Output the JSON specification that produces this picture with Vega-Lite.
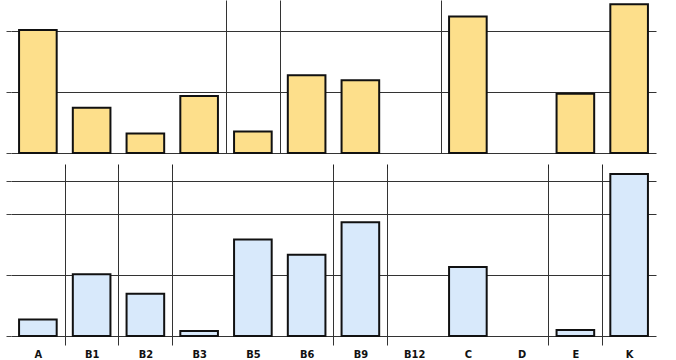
{
  "$schema": "https://vega.github.io/schema/vega-lite/v6.json",
  "padding": {"left": 5, "top": 0, "right": 10, "bottom": 5},
  "spacing": 15,
  "bounds": "flush",
  "background": "white",
  "config": {
    "view": {"stroke": null},
    "axis": {"domain": false, "labelFont": "DejaVu Sans Condensed"}
  },
  "datasets": {
    "top": [
      {"cat": "A", "value": 2.01},
      {"cat": "B1", "value": 0.74},
      {"cat": "B2", "value": 0.32},
      {"cat": "B3", "value": 0.93},
      {"cat": "B5", "value": 0.35},
      {"cat": "B6", "value": 1.27},
      {"cat": "B9", "value": 1.19},
      {"cat": "B12", "value": 0},
      {"cat": "C", "value": 2.23},
      {"cat": "D", "value": 0},
      {"cat": "E", "value": 0.97},
      {"cat": "K", "value": 2.43}
    ],
    "bottom": [
      {"cat": "A", "value": 0.27},
      {"cat": "B1", "value": 1.01},
      {"cat": "B2", "value": 0.69},
      {"cat": "B3", "value": 0.08},
      {"cat": "B5", "value": 1.58},
      {"cat": "B6", "value": 1.33},
      {"cat": "B9", "value": 1.86},
      {"cat": "B12", "value": 0},
      {"cat": "C", "value": 1.13},
      {"cat": "D", "value": 0},
      {"cat": "E", "value": 0.10},
      {"cat": "K", "value": 2.65}
    ]
  },
  "vconcat": [
    {
      "width": 645,
      "height": 153,
      "data": {"name": "top"},
      "mark": {"type": "bar", "fill": "#FDDF8B", "stroke": "#111111", "strokeWidth": 2},
      "encoding": {
        "x": {
          "field": "cat", "type": "nominal", "sort": null,
          "scale": {"paddingInner": 0.3, "paddingOuter": 0.15},
          "axis": {
            "title": null, "labels": false, "bandPosition": 1, "tickOffset": 8,
            "offset": 11, "tickSize": 7, "tickColor": "#222", "tickWidth": 1,
            "tickOpacity": {"condition": {"test": "indexof(['A','B1','B2','B6','B9','D','E'], datum.value) >= 0", "value": 1}, "value": 0},
            "grid": true, "gridColor": "#333", "gridWidth": 1,
            "gridOpacity": {"condition": {"test": "indexof(['B3','B5','B12'], datum.value) >= 0", "value": 1}, "value": 0}
          }
        },
        "y": {
          "field": "value", "type": "quantitative",
          "scale": {"domain": [0, 2.5], "nice": false},
          "axis": {
            "title": null, "labels": false, "values": [0, 1, 2],
            "tickSize": 5, "tickColor": "#444", "gridColor": "#333", "gridWidth": 1
          }
        },
        "strokeOpacity": {"condition": {"test": "datum.value == 0", "value": 0}, "value": 1}
      }
    },
    {
      "width": 645,
      "height": 168,
      "data": {"name": "bottom"},
      "mark": {"type": "bar", "fill": "#D8E9FB", "stroke": "#111111", "strokeWidth": 2},
      "encoding": {
        "x": {
          "field": "cat", "type": "nominal", "sort": null,
          "scale": {"paddingInner": 0.3, "paddingOuter": 0.15},
          "axis": {
            "title": null, "labelAngle": 0, "labelFontSize": 11, "labelFontWeight": "bold",
            "labelColor": "#111", "labelPadding": 3, "labelOffset": -8,
            "bandPosition": 1, "tickOffset": 8, "tickSize": 9, "tickColor": "#333",
            "tickOpacity": {"condition": {"test": "indexof(['A','B1','B2','B6','B9','D','E'], datum.value) >= 0", "value": 1}, "value": 0},
            "grid": true, "gridColor": "#333", "gridWidth": 1,
            "gridOpacity": {"condition": {"test": "indexof(['A','B1','B2','B6','B9','D','E'], datum.value) >= 0", "value": 1}, "value": 0}
          }
        },
        "y": {
          "field": "value", "type": "quantitative",
          "scale": {"domain": [0, 2.75], "nice": false},
          "axis": {
            "title": null, "labels": false, "values": [0, 1, 2, 2.54],
            "tickSize": 5, "tickColor": "#444", "gridColor": "#333", "gridWidth": 1
          }
        },
        "strokeOpacity": {"condition": {"test": "datum.value == 0", "value": 0}, "value": 1}
      }
    }
  ]
}
